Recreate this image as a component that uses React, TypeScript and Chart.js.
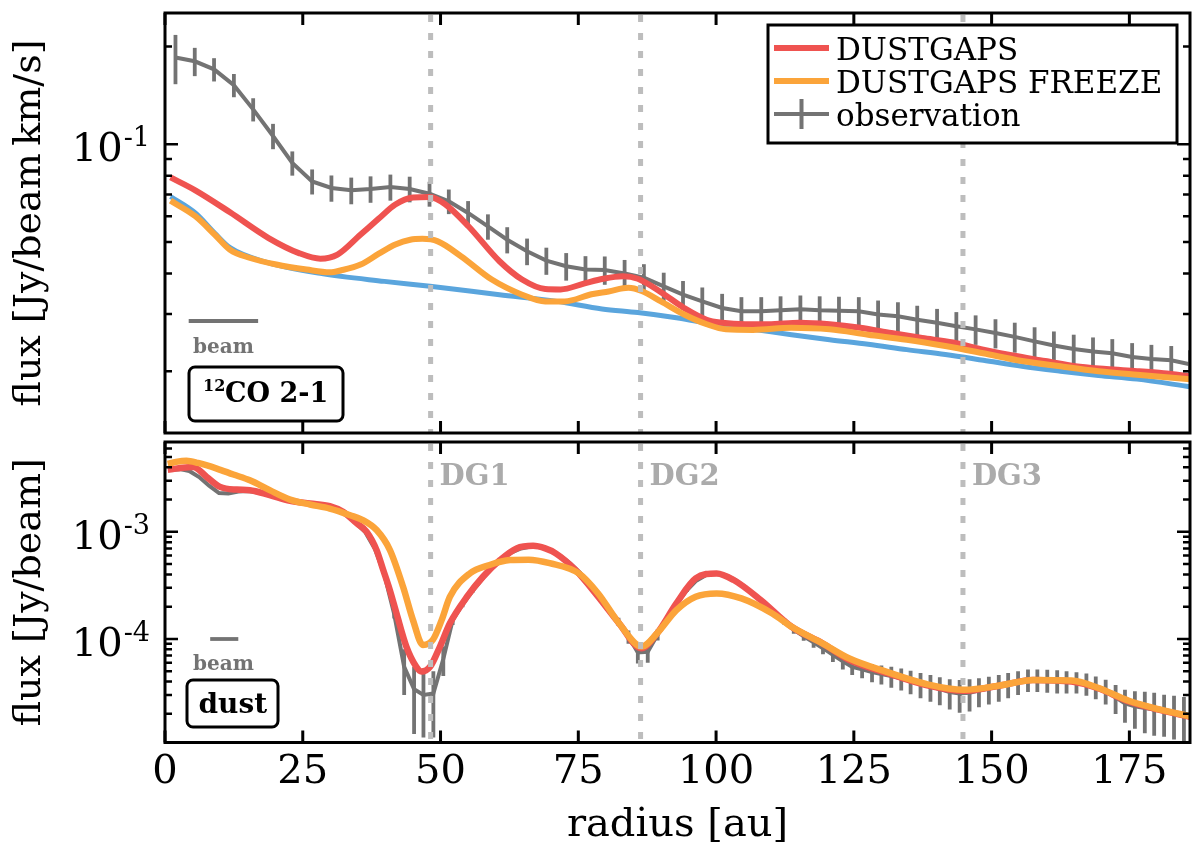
import React, { useEffect, useRef } from 'react';
import { Chart, registerables } from 'chart.js';

Chart.register(...registerables);

// shared radius axis
const radiusTicks = [0, 25, 50, 75, 100, 125, 150, 175];
const radiusMax = 186;
const gapRadii = [48.2, 86.3, 144.8];
const gapNames = ['DG1', 'DG2', 'DG3'];

// 12CO 2-1 panel (Jy/beam km/s)
const coTicks = [0.02, 0.03, 0.04, 0.05, 0.06, 0.07, 0.08, 0.09, 0.1, 0.2];
const coRange = [0.0129, 0.2535];

const coRedR = [1.0, 5.5, 11.8, 18.8, 24.3, 28.2, 31.3, 35.5, 38.8, 41.8, 45.0, 48.1, 50.9, 55.1, 60.7, 64.8, 69.0, 71.8, 76.0, 79.5, 83.1, 85.8, 90.0, 94.2, 98.3, 101.1, 105.3, 109.5, 115.1, 120.6, 126.2, 131.8, 137.4, 143.0, 148.5, 154.1, 159.7, 165.2, 170.8, 176.4, 181.2, 186.0];
const coRedFlux = [0.079, 0.0721, 0.0617, 0.0514, 0.0462, 0.0444, 0.0457, 0.0527, 0.059, 0.0652, 0.0685, 0.0688, 0.0652, 0.0558, 0.0436, 0.0383, 0.0358, 0.0357, 0.0372, 0.0385, 0.0392, 0.0385, 0.035, 0.0313, 0.0288, 0.0282, 0.0279, 0.0279, 0.0282, 0.0279, 0.0272, 0.0262, 0.0253, 0.0245, 0.0233, 0.0223, 0.0215, 0.0207, 0.0203, 0.02, 0.0197, 0.0193];

const coFreezeR = [1.0, 5.5, 9.0, 11.8, 15.3, 20.2, 25.7, 29.9, 32.0, 35.5, 38.8, 41.8, 44.5, 46.7, 49.5, 53.7, 59.3, 64.8, 69.0, 72.5, 77.4, 80.5, 84.1, 86.5, 90.0, 94.2, 98.3, 101.8, 106.7, 113.7, 120.6, 127.6, 134.6, 141.6, 148.5, 155.5, 162.5, 169.4, 176.4, 186.0];
const coFreezeFlux = [0.067, 0.06, 0.0527, 0.0473, 0.0447, 0.0426, 0.0411, 0.0403, 0.0409, 0.0426, 0.046, 0.0491, 0.0508, 0.0511, 0.0502, 0.0452, 0.0383, 0.0344, 0.0328, 0.0328, 0.0345, 0.0352, 0.0361, 0.0353, 0.0328, 0.0299, 0.0279, 0.0269, 0.0268, 0.0272, 0.0269, 0.0259, 0.025, 0.0239, 0.0227, 0.0215, 0.0207, 0.02, 0.0195, 0.0189];

const coSmoothR = [1.0, 5.5, 9.0, 11.8, 18.8, 28.2, 39.8, 48.1, 60.7, 71.1, 79.3, 85.8, 92.8, 99.7, 106.7, 113.7, 120.6, 127.6, 134.6, 141.6, 148.5, 155.5, 162.5, 169.4, 176.4, 186.0];
const coSmoothFlux = [0.069, 0.0614, 0.0533, 0.048, 0.0431, 0.04, 0.0378, 0.0365, 0.0344, 0.0328, 0.0311, 0.0303, 0.0292, 0.0279, 0.0269, 0.0259, 0.025, 0.0242, 0.0233, 0.0225, 0.0216, 0.0207, 0.02, 0.0194, 0.0189, 0.0179];

const coObsR = [
  1.9, 5.4, 8.9, 12.5, 16.0, 19.6, 23.1, 26.7, 30.2, 33.8,
  37.3, 40.9, 44.4, 48.0, 51.5, 55.0, 58.6, 62.1, 65.7, 69.2,
  72.8, 76.3, 79.8, 83.4, 86.9, 90.5, 94.0, 97.5, 101.1, 104.6,
  108.2, 111.7, 115.3, 118.8, 122.3, 125.9, 129.4, 133.0, 136.5, 140.1,
  143.6, 147.1, 150.7, 154.2, 157.8, 161.3, 164.9, 168.4, 171.9, 175.5,
  179.0, 182.6, 186.0,
];
const coObsFlux = [
  0.185, 0.18, 0.17, 0.152, 0.128, 0.106, 0.0875, 0.0768, 0.0733, 0.0721,
  0.0728, 0.0738, 0.0728, 0.0704, 0.0667, 0.0614, 0.0558, 0.0508, 0.0468, 0.0438,
  0.0421, 0.0411, 0.041, 0.04, 0.0388, 0.0365, 0.0344, 0.0328, 0.0313, 0.0306,
  0.0306, 0.0308, 0.031, 0.0308, 0.0307, 0.0306, 0.0299, 0.0295, 0.0288, 0.0282,
  0.0275, 0.0269, 0.0262, 0.0255, 0.0247, 0.024, 0.0234, 0.023, 0.0227, 0.0221,
  0.0218, 0.0216, 0.021,
];
const coObsErr = [
  0.032, 0.018, 0.014, 0.0125, 0.0105, 0.0095, 0.0075, 0.0068, 0.0068, 0.0068,
  0.0068, 0.0068, 0.0066, 0.0062, 0.0058, 0.0054, 0.005, 0.0047, 0.0044, 0.0042,
  0.0041, 0.0041, 0.0041, 0.004, 0.0039, 0.0037, 0.0035, 0.0034, 0.0033, 0.0032,
  0.0032, 0.0032, 0.0032, 0.0032, 0.0032, 0.0032, 0.0031, 0.0031, 0.003, 0.0029,
  0.0029, 0.0028, 0.0027, 0.0027, 0.0026, 0.0025, 0.0025, 0.0024, 0.0024, 0.0023,
  0.0023, 0.0023, 0.0022,
];

// dust panel (Jy/beam)
const dustTicks = [
  2e-5, 3e-5, 4e-5, 5e-5, 6e-5, 7e-5, 8e-5, 9e-5, 1e-4,
  2e-4, 3e-4, 4e-4, 5e-4, 6e-4, 7e-4, 8e-4, 9e-4, 1e-3,
  2e-3, 3e-3, 4e-3, 5e-3, 6e-3,
];
const dustRange = [1.08e-5, 6.9e-3];

const dustRedR = [0.5, 2.5, 5.1, 7.6, 10.0, 13.0, 15.4, 19.0, 22.7, 26.3, 29.9, 32.3, 34.8, 36.6, 38.4, 39.6, 40.8, 42.0, 43.8, 45.6, 46.5, 48.1, 49.9, 51.7, 54.8, 57.7, 60.8, 63.8, 66.8, 69.0, 70.9, 74.5, 78.6, 82.4, 86.4, 89.3, 92.8, 96.3, 100.1, 103.2, 108.1, 113.7, 119.3, 124.1, 131.1, 138.1, 145.0, 152.0, 157.5, 164.5, 169.3, 174.9, 180.5, 186.0];
const dustRedFlux = [3.8e-3, 3.92e-3, 4.04e-3, 3.25e-3, 2.63e-3, 2.48e-3, 2.45e-3, 2.2e-3, 1.95e-3, 1.84e-3, 1.74e-3, 1.54e-3, 1.2e-3, 1.0e-3, 6.75e-4, 4.4e-4, 2.86e-4, 1.74e-4, 8.5e-5, 5.5e-5, 4.96e-5, 5.5e-5, 8.5e-5, 1.4e-4, 2.48e-4, 3.81e-4, 5.45e-4, 7.0e-4, 7.4e-4, 7.0e-4, 6.3e-4, 4.4e-4, 2.48e-4, 1.4e-4, 8.2e-5, 1.13e-4, 2.15e-4, 3.67e-4, 4.09e-4, 3.55e-4, 2.31e-4, 1.3e-4, 9.1e-5, 6.4e-5, 4.8e-5, 3.72e-5, 3.28e-5, 3.72e-5, 4.15e-5, 4.0e-5, 3.47e-5, 2.61e-5, 2.18e-5, 1.88e-5];

const dustFreezeR = [0.5, 2.0, 3.9, 6.0, 9.4, 12.4, 15.4, 19.0, 22.7, 26.3, 29.9, 33.6, 36.0, 38.4, 40.8, 43.2, 45.0, 46.8, 48.6, 50.2, 51.7, 55.3, 58.9, 62.6, 66.0, 69.8, 75.1, 78.6, 82.4, 86.5, 89.3, 92.8, 96.3, 100.1, 104.6, 110.2, 113.7, 119.3, 124.1, 131.1, 138.1, 145.0, 152.0, 157.5, 164.5, 169.3, 174.9, 180.5, 186.0];
const dustFreezeFlux = [4.3e-3, 4.5e-3, 4.62e-3, 4.4e-3, 3.9e-3, 3.43e-3, 3.03e-3, 2.45e-3, 2.0e-3, 1.8e-3, 1.65e-3, 1.43e-3, 1.28e-3, 1.04e-3, 6.8e-4, 3.07e-4, 1.5e-4, 8.8e-5, 9.8e-5, 1.5e-4, 2.48e-4, 4.09e-4, 4.9e-4, 5.45e-4, 5.5e-4, 5.1e-4, 4.09e-4, 2.66e-4, 1.4e-4, 8.5e-5, 1.13e-4, 1.86e-4, 2.48e-4, 2.66e-4, 2.39e-4, 1.73e-4, 1.3e-4, 9.1e-5, 6.6e-5, 4.9e-5, 3.8e-5, 3.35e-5, 3.72e-5, 4.15e-5, 4.1e-5, 3.5e-5, 2.65e-5, 2.2e-5, 1.9e-5];

const dustObsR = [
  0.9, 2.7, 4.4, 6.2, 8.0, 9.8, 11.5, 13.3, 15.1, 16.8,
  18.6, 20.4, 22.1, 23.9, 25.7, 27.5, 29.2, 31.0, 32.8, 34.5,
  36.3, 38.1, 39.8, 41.6, 43.4, 45.2, 46.9, 48.7, 50.5, 52.2,
  54.0, 55.8, 57.5, 59.3, 61.1, 62.8, 64.6, 66.4, 68.1, 69.9,
  71.7, 73.5, 75.2, 77.0, 78.8, 80.5, 82.3, 84.1, 85.8, 87.6,
  89.4, 91.1, 92.9, 94.7, 96.4, 98.2, 100.0, 101.7, 103.5, 105.3,
  107.0, 108.8, 110.6, 112.4, 114.1, 115.9, 117.7, 119.4, 121.2, 123.0,
  124.7, 126.5, 128.3, 130.0, 131.8, 133.6, 135.3, 137.1, 138.9, 140.6,
  142.4, 144.2, 146.0, 147.7, 149.5, 151.3, 153.0, 154.8, 156.6, 158.3,
  160.1, 161.9, 163.6, 165.4, 167.2, 168.9, 170.7, 172.5, 174.2, 176.0,
  177.8, 179.5, 181.3, 183.1, 184.9,
];
const dustObsFlux = [
  3.78e-3, 3.85e-3, 3.7e-3, 3.25e-3, 2.7e-3, 2.3e-3, 2.28e-3, 2.38e-3, 2.4e-3, 2.33e-3,
  2.22e-3, 2.1e-3, 2.0e-3, 1.93e-3, 1.87e-3, 1.82e-3, 1.76e-3, 1.62e-3, 1.45e-3, 1.22e-3,
  1.0e-3, 6.9e-4, 4.0e-4, 1.7e-4, 5.5e-5, 3.4e-5, 3.0e-5, 3.1e-5, 6.5e-5, 1.5e-4,
  2.1e-4, 2.8e-4, 3.6e-4, 4.6e-4, 5.5e-4, 6.4e-4, 7.0e-4, 7.3e-4, 7.2e-4, 6.7e-4,
  6.0e-4, 5.1e-4, 4.2e-4, 3.3e-4, 2.5e-4, 1.9e-4, 1.45e-4, 1.05e-4, 7.5e-5, 7.6e-5,
  1.1e-4, 1.55e-4, 2.15e-4, 2.85e-4, 3.5e-4, 3.95e-4, 4.1e-4, 3.95e-4, 3.55e-4, 3.05e-4,
  2.55e-4, 2.1e-4, 1.75e-4, 1.45e-4, 1.22e-4, 1.06e-4, 9.3e-5, 8.2e-5, 7.1e-5, 6.2e-5,
  5.5e-5, 5.2e-5, 4.9e-5, 4.7e-5, 4.5e-5, 4.3e-5, 4.05e-5, 3.8e-5, 3.6e-5, 3.4e-5,
  3.2e-5, 3.1e-5, 3.15e-5, 3.3e-5, 3.45e-5, 3.6e-5, 3.8e-5, 4.0e-5, 4.2e-5, 4.2e-5,
  4.15e-5, 4.1e-5, 4.05e-5, 4.0e-5, 3.85e-5, 3.6e-5, 3.3e-5, 2.85e-5, 2.5e-5, 2.35e-5,
  2.27e-5, 2.2e-5, 2.12e-5, 2.05e-5, 1.97e-5,
];
const dustObsErr = [
  1e-5, 1e-5, 1e-5, 1e-5, 1e-5, 1e-5, 1e-5, 1e-5, 1e-5, 1e-5,
  1e-5, 1e-5, 1e-5, 1e-5, 1e-5, 1e-5, 1e-5, 1e-5, 1e-5, 1e-5,
  1e-5, 1e-5, 1.2e-5, 1.5e-5, 2.5e-5, 2.1e-5, 1.8e-5, 1.9e-5, 2.0e-5, 1.5e-5,
  1.2e-5, 1.1e-5, 1.1e-5, 1.1e-5, 1.1e-5, 1.1e-5, 1.1e-5, 1.1e-5, 1.1e-5, 1.1e-5,
  1.1e-5, 1.1e-5, 1.1e-5, 1.1e-5, 1.1e-5, 1.1e-5, 1.3e-5, 1.5e-5, 1.6e-5, 1.6e-5,
  1.3e-5, 1.1e-5, 1e-5, 1e-5, 1e-5, 1e-5, 1e-5, 1e-5, 1e-5, 1e-5,
  1e-5, 1e-5, 1e-5, 1e-5, 1e-5, 1e-5, 1e-5, 1e-5, 1e-5, 1e-5,
  0.9e-5, 0.9e-5, 0.95e-5, 0.95e-5, 1e-5, 1e-5, 1e-5, 1e-5, 1e-5, 1e-5,
  1e-5, 1.05e-5, 1.05e-5, 1e-5, 1e-5, 1e-5, 1e-5, 1e-5, 1e-5, 1e-5,
  1e-5, 1e-5, 0.95e-5, 0.9e-5, 0.9e-5, 0.86e-5, 0.86e-5, 0.86e-5, 0.85e-5, 0.9e-5,
  0.95e-5, 0.95e-5, 0.9e-5, 0.9e-5, 0.9e-5,
];

const SERIF = '"DejaVu Serif", "Liberation Serif", serif';
const RED = '#ef5350';
const ORANGE = '#fba43a';
const BLUE = '#5aa5dd';
const GREY = '#737373';
const GAP_GREY = '#bdbdbd';
const GAP_TEXT = '#ababab';

// exponent of a decade tick, or null for minor ticks
const decadeExp = (v: number): number | null => {
  const e = Math.log10(v);
  return Math.abs(e - Math.round(e)) > 1e-6 ? null : Math.round(e);
};

const points = (r: number[], v: number[]) => r.map((x, i) => ({ x, y: v[i] }));

const modelLine = (label: string, color: string, r: number[], v: number[], width: number) => ({
  label,
  data: points(r, v),
  borderColor: color,
  borderWidth: width,
  pointRadius: 0,
  fill: false,
  cubicInterpolationMode: 'monotone' as const,
});

const obsLine = (r: number[], v: number[], err: number[], width: number) => ({
  label: 'observation',
  data: points(r, v),
  errors: err,
  borderColor: GREY,
  borderWidth: width,
  pointRadius: 0,
  fill: false,
  tension: 0,
});

// vertical error bars, drawn straight after the observation line
const errorBars = {
  id: 'errorBars',
  afterDatasetDraw(chart: any, args: any) {
    const ds = chart.data.datasets[args.index];
    if (!ds.errors) return;
    const { ctx, chartArea: a, scales } = chart;
    ctx.save();
    ctx.beginPath();
    ctx.rect(a.left, a.top, a.right - a.left, a.bottom - a.top);
    ctx.clip();
    ctx.strokeStyle = ds.borderColor;
    ctx.lineWidth = 3.8;
    ctx.lineCap = 'butt';
    ds.data.forEach((p: { x: number; y: number }, i: number) => {
      const e = ds.errors[i];
      const x = scales.x.getPixelForValue(p.x);
      const y1 = scales.y.getPixelForValue(p.y + e);
      const lo = p.y - e;
      const y2 = lo > 0 ? scales.y.getPixelForValue(lo) : a.bottom + 5;
      ctx.beginPath();
      ctx.moveTo(x, y1);
      ctx.lineTo(x, y2);
      ctx.stroke();
    });
    ctx.restore();
  },
};

type Decor = {
  yTicks: number[];
  extras: (ctx: CanvasRenderingContext2D, chart: any) => void;
};

const roundBox = (ctx: CanvasRenderingContext2D, x: number, y: number, w: number, h: number) => {
  ctx.save();
  ctx.fillStyle = '#fff';
  ctx.strokeStyle = '#000';
  ctx.lineWidth = 3;
  ctx.beginPath();
  ctx.roundRect(x, y, w, h, 6);
  ctx.fill();
  ctx.stroke();
  ctx.restore();
};

const beamMark = (ctx: CanvasRenderingContext2D, chart: any, r0: number, width: number, y: number, textY: number) => {
  const xs = chart.scales.x;
  const x0 = xs.getPixelForValue(r0);
  const x1 = xs.getPixelForValue(r0 + width);
  ctx.save();
  ctx.strokeStyle = GREY;
  ctx.lineWidth = 3.8;
  ctx.beginPath();
  ctx.moveTo(x0, y);
  ctx.lineTo(x1, y);
  ctx.stroke();
  ctx.fillStyle = GREY;
  ctx.font = `bold 20px ${SERIF}`;
  ctx.textAlign = 'center';
  ctx.textBaseline = 'alphabetic';
  ctx.fillText('beam', 223.5, textY);
  ctx.restore();
};

const makeDecor = (cfg: Decor) => ({
  id: 'panelDecor',
  afterDatasetsDraw(chart: any) {
    const { ctx, chartArea: a, scales } = chart;
    ctx.save();
    ctx.strokeStyle = GAP_GREY;
    ctx.lineWidth = 5;
    ctx.setLineDash([7, 11]);
    gapRadii.forEach((r) => {
      const x = scales.x.getPixelForValue(r);
      ctx.beginPath();
      ctx.moveTo(x, a.top + 2);
      ctx.lineTo(x, a.bottom);
      ctx.stroke();
    });
    ctx.restore();
  },
  afterDraw(chart: any) {
    const { ctx, chartArea: a, scales } = chart;
    ctx.save();
    ctx.strokeStyle = '#000';
    // inward ticks on all four sides
    ctx.lineWidth = 2.5;
    cfg.yTicks.forEach((v) => {
      const y = scales.y.getPixelForValue(v);
      const len = decadeExp(v) !== null ? 13 : 7;
      ctx.beginPath();
      ctx.moveTo(a.left, y);
      ctx.lineTo(a.left + len, y);
      ctx.moveTo(a.right, y);
      ctx.lineTo(a.right - len, y);
      ctx.stroke();
    });
    ctx.lineWidth = 3;
    radiusTicks.forEach((r) => {
      const x = scales.x.getPixelForValue(r);
      ctx.beginPath();
      ctx.moveTo(x, a.bottom);
      ctx.lineTo(x, a.bottom - 12);
      ctx.moveTo(x, a.top);
      ctx.lineTo(x, a.top + 12);
      ctx.stroke();
    });
    ctx.strokeRect(a.left, a.top, a.right - a.left, a.bottom - a.top);

    // decade labels 10^n with a raised exponent
    ctx.fillStyle = '#000';
    ctx.textBaseline = 'alphabetic';
    ctx.textAlign = 'left';
    cfg.yTicks.forEach((v) => {
      const e = decadeExp(v);
      if (e === null) return;
      const y = scales.y.getPixelForValue(v);
      const sup = String(e);
      ctx.font = `40px ${SERIF}`;
      const wBase = ctx.measureText('10').width;
      ctx.font = `27px ${SERIF}`;
      const wSup = ctx.measureText(sup).width;
      const x0 = 149 - wBase - wSup;
      ctx.font = `40px ${SERIF}`;
      ctx.fillText('10', x0, y + 17);
      ctx.font = `27px ${SERIF}`;
      ctx.fillText(sup, x0 + wBase + 1, y + 2);
    });
    ctx.restore();
    cfg.extras(ctx, chart);
  },
});

const topExtras = (ctx: CanvasRenderingContext2D, chart: any) => {
  beamMark(ctx, chart, 4.3, 12.6, 321, 353);
  roundBox(ctx, 189, 367, 154, 54);
  ctx.save();
  ctx.fillStyle = '#000';
  ctx.textBaseline = 'alphabetic';
  ctx.font = `bold 16px ${SERIF}`;
  ctx.fillText('12', 203, 391);
  ctx.font = `bold 27px ${SERIF}`;
  ctx.fillText('CO 2-1', 225, 402);
  ctx.restore();

  // legend
  const lx = 768;
  const ly = 25;
  ctx.save();
  ctx.fillStyle = '#fff';
  ctx.fillRect(lx, ly, 409, 118);
  ctx.strokeStyle = '#000';
  ctx.lineWidth = 3;
  ctx.strokeRect(lx, ly, 409, 118);
  const rows = [
    { text: 'DUSTGAPS', color: RED, y: 48, w: 6, bar: false },
    { text: 'DUSTGAPS FREEZE', color: ORANGE, y: 81, w: 6, bar: false },
    { text: 'observation', color: GREY, y: 114, w: 4, bar: true },
  ];
  rows.forEach((row) => {
    ctx.strokeStyle = row.color;
    ctx.lineWidth = row.w;
    ctx.beginPath();
    ctx.moveTo(774, row.y);
    ctx.lineTo(829, row.y);
    if (row.bar) {
      ctx.moveTo(801.5, row.y - 15);
      ctx.lineTo(801.5, row.y + 15);
    }
    ctx.stroke();
    ctx.fillStyle = '#000';
    ctx.font = `31px ${SERIF}`;
    ctx.textBaseline = 'alphabetic';
    ctx.fillText(row.text, 836, row.y + 11.5);
  });
  ctx.restore();
};

const bottomExtras = (ctx: CanvasRenderingContext2D, chart: any) => {
  beamMark(ctx, chart, 8.2, 5.1, 203, 234);
  roundBox(ctx, 187, 244, 91, 47);
  ctx.save();
  ctx.fillStyle = '#000';
  ctx.font = `bold 28px ${SERIF}`;
  ctx.textAlign = 'center';
  ctx.textBaseline = 'alphabetic';
  ctx.fillText('dust', 232.8, 277);
  ctx.fillStyle = GAP_TEXT;
  ctx.font = `bold 29px ${SERIF}`;
  ctx.textAlign = 'left';
  gapRadii.forEach((r, i) => {
    ctx.fillText(gapNames[i], chart.scales.x.getPixelForValue(r) + 9, 49);
  });
  ctx.restore();
};

const yAxis = (range: number[], ticks: number[], title: string) => ({
  type: 'logarithmic' as const,
  min: range[0],
  max: range[1],
  afterBuildTicks: (s: any) => {
    s.ticks = ticks.map((v) => ({ value: v }));
  },
  afterFit: (s: any) => {
    s.width = 165;
    s.paddingTop = 0;
    s.paddingBottom = 0;
  },
  grid: { display: false, drawTicks: false },
  border: { display: false },
  ticks: { display: false },
  title: {
    display: true,
    text: title,
    color: '#000',
    font: { family: SERIF, size: 38 },
    padding: { top: 7, bottom: 0 },
  },
});

export default function App() {
  const topRef = useRef<HTMLCanvasElement>(null);
  const bottomRef = useRef<HTMLCanvasElement>(null);

  useEffect(() => {
    if (!topRef.current || !bottomRef.current) return;

    const top = new Chart(topRef.current, {
      type: 'line',
      data: {
        datasets: [
          modelLine('DUSTGAPS FREEZE', ORANGE, coFreezeR, coFreezeFlux, 6),
          modelLine('DUSTGAPS', RED, coRedR, coRedFlux, 6),
          modelLine('no gaps', BLUE, coSmoothR, coSmoothFlux, 5),
          obsLine(coObsR, coObsFlux, coObsErr, 4),
        ] as any,
      },
      options: {
        responsive: false,
        animation: false,
        events: [],
        layout: { padding: { left: 0, top: 13, right: 10, bottom: 3 } },
        plugins: { legend: { display: false }, tooltip: { enabled: false } },
        scales: {
          x: { type: 'linear', min: 0, max: radiusMax, display: false },
          y: yAxis(coRange, coTicks, 'flux [Jy/beam\u2009km/s]') as any,
        },
      },
      plugins: [errorBars, makeDecor({ yTicks: coTicks, extras: topExtras })],
    });

    const bottom = new Chart(bottomRef.current, {
      type: 'line',
      data: {
        datasets: [
          modelLine('DUSTGAPS FREEZE', ORANGE, dustFreezeR, dustFreezeFlux, 6.5),
          modelLine('DUSTGAPS', RED, dustRedR, dustRedFlux, 6.5),
          obsLine(dustObsR, dustObsFlux, dustObsErr, 4),
        ] as any,
      },
      options: {
        responsive: false,
        animation: false,
        events: [],
        layout: { padding: { left: 0, top: 6, right: 10, bottom: 0 } },
        plugins: { legend: { display: false }, tooltip: { enabled: false } },
        scales: {
          x: {
            type: 'linear',
            min: 0,
            max: radiusMax,
            afterBuildTicks: (s: any) => {
              s.ticks = radiusTicks.map((v) => ({ value: v }));
            },
            afterFit: (s: any) => {
              s.height = 108.5;
            },
            grid: { display: false, drawTicks: false },
            border: { display: false },
            ticks: {
              autoSkip: false,
              maxRotation: 0,
              color: '#000',
              padding: 6,
              font: { family: SERIF, size: 40 },
            },
            title: {
              display: true,
              text: 'radius [au]',
              color: '#000',
              font: { family: SERIF, size: 40 },
              padding: { top: 0, bottom: 1 },
            },
          } as any,
          y: yAxis(dustRange, dustTicks, 'flux [Jy/beam]') as any,
        },
      },
      plugins: [errorBars, makeDecor({ yTicks: dustTicks, extras: bottomExtras })],
    });

    return () => {
      top.destroy();
      bottom.destroy();
    };
  }, []);

  return (
    <div style={{ position: 'absolute', left: 0, top: 0, width: 1200, height: 851, background: '#fff' }}>
      <canvas ref={topRef} width={1200} height={436} style={{ position: 'absolute', left: 0, top: 0 }} />
      <canvas ref={bottomRef} width={1200} height={415} style={{ position: 'absolute', left: 0, top: 436 }} />
    </div>
  );
}
